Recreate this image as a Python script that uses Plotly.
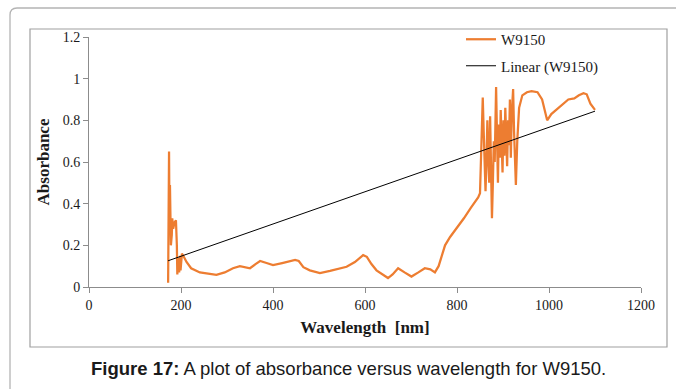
import plotly.graph_objects as go

# Absorbance spectrum of W9150 (wavelength in nm)
wavelength = [
    172, 174, 175, 176, 178, 180, 181, 183, 186, 189, 191, 192, 194, 196, 198, 199,
    202, 205, 212, 222, 241, 260, 277, 295, 313, 328, 340, 350, 362, 372, 386, 400,
    420, 435, 448, 456, 466, 480, 502, 524, 545, 560, 578, 596, 604, 614, 625, 638,
    650, 660, 672, 686, 701, 716, 730, 742, 752, 760, 768, 774, 785, 799, 815, 830,
    846, 850, 853, 856, 858, 860, 862, 864, 866, 868, 870, 872, 874, 876, 878, 880,
    882, 885, 887, 889, 891, 893, 895, 897, 899, 901, 903, 905, 907, 909, 911, 913,
    915, 917, 919, 922, 924, 926, 928, 931, 935, 942, 952, 962, 975, 985, 992, 996,
    1005, 1015, 1030, 1042, 1055, 1065, 1075, 1082, 1090, 1100,
]
absorbance = [
    0.02, 0.65, 0.30, 0.49, 0.20, 0.25, 0.33, 0.28, 0.31, 0.32, 0.20, 0.06, 0.14, 0.07,
    0.15, 0.08, 0.16, 0.15, 0.12, 0.09, 0.07, 0.062, 0.058, 0.07, 0.09, 0.10, 0.095,
    0.09, 0.11, 0.125, 0.115, 0.105, 0.115, 0.125, 0.13, 0.125, 0.095, 0.08, 0.067,
    0.077, 0.09, 0.097, 0.12, 0.153, 0.145, 0.11, 0.08, 0.06, 0.043, 0.06, 0.09, 0.07,
    0.05, 0.07, 0.09, 0.085, 0.07, 0.10, 0.16, 0.20, 0.24, 0.28, 0.33, 0.38,
    0.43, 0.45, 0.70, 0.91, 0.75, 0.55, 0.46, 0.60, 0.80, 0.62, 0.50, 0.82, 0.55,
    0.33, 0.50, 0.70, 0.60, 0.96, 0.72, 0.50, 0.78, 0.62, 0.85, 0.66, 0.55, 0.80,
    0.63, 0.86, 0.70, 0.58, 0.80, 0.68, 0.90, 0.62, 0.83, 0.95, 0.75, 0.60, 0.49,
    0.70, 0.86, 0.92, 0.935, 0.94, 0.935, 0.90, 0.84, 0.80, 0.83, 0.85, 0.88, 0.90,
    0.905, 0.92, 0.93, 0.925, 0.88, 0.85,
]

# Linear trend line of the spectrum (end points of the fit)
trend_wavelength = [172, 1100]
trend_absorbance = [0.126, 0.844]

x_ticks = [0, 200, 400, 600, 800, 1000, 1200]
y_ticks = [0, 0.2, 0.4, 0.6, 0.8, 1, 1.2]
y_tick_text = ["0", "0.2", "0.4", "0.6", "0.8", "1", "1.2"]

SERIF = "Liberation Serif, Times New Roman, serif"
AXIS_GREY = "#8c8c8c"

fig = go.Figure()
fig.add_trace(go.Scatter(
    x=wavelength, y=absorbance, mode="lines", name="W9150",
    line=dict(color="#ED7D31", width=2.25), legendgroup="a",
))
fig.add_trace(go.Scatter(
    x=trend_wavelength, y=trend_absorbance, mode="lines", name="Linear (W9150)",
    line=dict(color="#000000", width=1), legendgroup="b",
))

L, R, T, B = 89, 35, 37, 102
W, H = 676, 389
pw, ph = W - L - R, H - T - B


def px_x(p):
    return (p - L) / pw


def px_y(p):
    return (H - B - p) / ph


# outer rounded frame (open on right and bottom) and inner chart border
r = 7
outer = (
    f"M {px_x(10)},{px_y(400)} L {px_x(10)},{px_y(8 + r)} "
    f"Q {px_x(10)},{px_y(8)} {px_x(10 + r)},{px_y(8)} L {px_x(690)},{px_y(8)}"
)
fig.add_shape(type="path", path=outer, xref="paper", yref="paper",
              line=dict(color="#b4b4b4", width=1.3))
fig.add_shape(type="rect", xref="paper", yref="paper",
              x0=px_x(30), x1=px_x(667), y0=px_y(347), y1=px_y(29),
              line=dict(color="#a0a0a0", width=1.2))

fig.add_annotation(
    text="<b>Figure 17:</b> A plot of absorbance versus wavelength for W9150.",
    xref="paper", yref="paper", x=px_x(348), y=px_y(368),
    xanchor="center", yanchor="middle", showarrow=False,
    font=dict(family="Liberation Sans, Arial, sans-serif", size=18.5, color="#1a1a1a"),
)

fig.update_layout(
    width=W, height=H,
    margin=dict(l=L, r=R, t=T, b=B),
    paper_bgcolor="white", plot_bgcolor="white",
    showlegend=True,
    legend=dict(
        x=px_x(461), y=px_y(23), xanchor="left", yanchor="top",
        bgcolor="rgba(0,0,0,0)", font=dict(family=SERIF, size=15, color="#1a1a1a"),
        traceorder="grouped", tracegroupgap=4, itemwidth=30,
    ),
    xaxis=dict(
        range=[0, 1200], tickvals=x_ticks, showgrid=False, zeroline=False,
        showline=True, linecolor=AXIS_GREY, linewidth=1,
        ticks="outside", ticklen=5, tickcolor=AXIS_GREY,
        tickfont=dict(family=SERIF, size=14, color="#1a1a1a"),
        title=dict(text="<b>Wavelength  [nm]</b>", standoff=9,
                   font=dict(family=SERIF, size=17, color="#1a1a1a")),
    ),
    yaxis=dict(
        range=[0, 1.2], tickvals=y_ticks, ticktext=y_tick_text, showgrid=False,
        zeroline=False, showline=True, linecolor=AXIS_GREY, linewidth=1,
        ticks="outside", ticklen=5, tickcolor=AXIS_GREY,
        tickfont=dict(family=SERIF, size=14, color="#1a1a1a"),
        title=dict(text="<b>Absorbance</b>", standoff=8,
                   font=dict(family=SERIF, size=17, color="#1a1a1a")),
    ),
)

fig.write_html("out.html")
